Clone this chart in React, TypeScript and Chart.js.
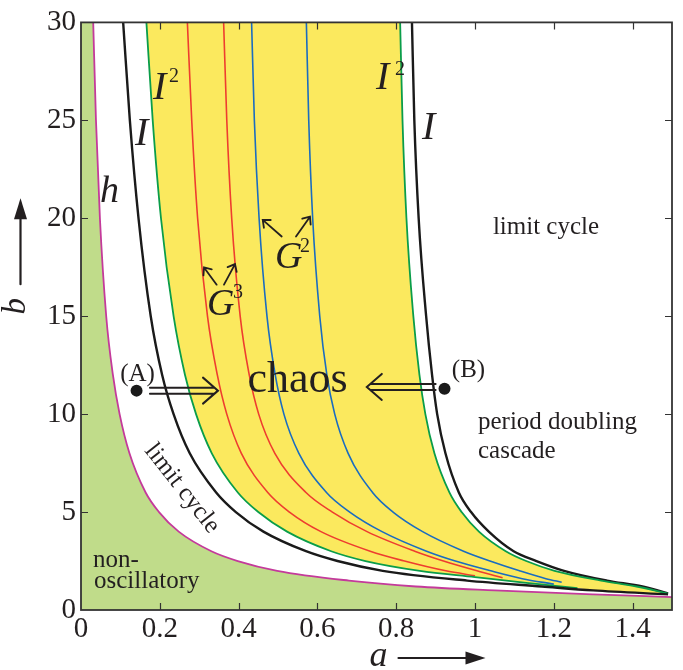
import React, { useEffect, useRef } from 'react';
import { Chart, registerables } from 'chart.js';

Chart.register(...registerables);

// ---------- axis ticks ----------
const xTickValues = [0, 0.2, 0.4, 0.6, 0.8, 1, 1.2, 1.4];
const xTickLabels = ['0', '0.2', '0.4', '0.6', '0.8', '1', '1.2', '1.4'];
const yTickValues = [0, 5, 10, 15, 20, 25, 30];
const yTickLabels = ['0', '5', '10', '15', '20', '25', '30'];

// ---------- curves (a, b) ----------
// h : Hopf curve (magenta)
const hA = [0.031, 0.038, 0.048, 0.064, 0.081, 0.098, 0.123, 0.164, 0.198, 0.248, 0.331, 0.398, 0.498, 0.68, 0.85, 1.05, 1.3, 1.5];
const hB = [30, 25, 20, 15, 12, 10, 8, 6, 5, 4, 3, 2.5, 2, 1.5, 1.2, 1.0, 0.8, 0.66];
// I : left black curve
const iLeftA = [0.107, 0.124, 0.146, 0.177, 0.206, 0.235, 0.276, 0.343, 0.393, 0.463, 0.571, 0.651, 0.766, 0.98, 1.17, 1.3, 1.49];
const iLeftB = [30, 25, 20, 15, 12, 10, 8, 6, 5, 4, 3, 2.5, 2, 1.5, 1.2, 1.0, 0.8];
// I^2 : left green curve
const i2LeftA = [0.166, 0.182, 0.203, 0.235, 0.264, 0.292, 0.332, 0.398, 0.45, 0.523, 0.635, 0.722, 0.86, 1.0, 1.13, 1.26];
const i2LeftB = [30, 25, 20, 15, 12, 10, 8, 6, 5, 4, 3, 2.5, 2, 1.68, 1.38, 1.12];
// G^3 : red curves
const g3aA = [0.27, 0.281, 0.296, 0.321, 0.346, 0.37, 0.407, 0.474, 0.529, 0.609, 0.734, 0.821, 0.926, 1.0];
const g3aB = [30, 25, 20, 15, 12, 10, 8, 6, 5, 4, 3, 2.5, 2, 1.75];
const g3bA = [0.362, 0.37, 0.3825, 0.404, 0.427, 0.451, 0.492, 0.571, 0.638, 0.726, 0.847, 0.92, 1.005, 1.07];
const g3bB = [30, 25, 20, 15, 12, 10, 8, 6, 5, 4, 3, 2.5, 2, 1.65];
// G^2 : blue curves
const g2aA = [0.433, 0.44, 0.452, 0.472, 0.493, 0.515, 0.553, 0.623, 0.682, 0.764, 0.877, 0.95, 1.04, 1.12, 1.2];
const g2aB = [30, 25, 20, 15, 12, 10, 8, 6, 5, 4, 3, 2.5, 2, 1.6, 1.32];
const g2bA = [0.572, 0.578, 0.588, 0.606, 0.624, 0.644, 0.678, 0.74, 0.792, 0.867, 0.971, 1.038, 1.113, 1.18, 1.22];
const g2bB = [30, 25, 20, 15, 12, 10, 8, 6, 5, 4, 3, 2.5, 2, 1.6, 1.42];
// I^2 : right green curve
const i2RightA = [0.81, 0.816, 0.826, 0.8435, 0.859, 0.874, 0.897, 0.935, 0.966, 1.01, 1.078, 1.13, 1.202, 1.32, 1.41, 1.49];
const i2RightB = [30, 25, 20, 15, 12, 10, 8, 6, 5, 4, 3, 2.5, 2, 1.5, 1.2, 0.84];
// I : right black curve
const iRightA = [0.84, 0.846, 0.857, 0.876, 0.891, 0.904, 0.925, 0.959, 0.99, 1.035, 1.098, 1.156, 1.226, 1.335, 1.425, 1.49];
const iRightB = [30, 25, 20, 15, 12, 10, 8, 6, 5, 4, 3, 2.5, 2, 1.5, 1.2, 0.85];
// marked points (A), (B)
const markA = [0.141, 0.9226];
const markB = [11.2, 11.3];

// ---------- annotations (data coordinates) ----------
const SERIF = "'Liberation Serif', 'Times New Roman', serif";
const textNotes = [
  { t: 'h', a: 0.0482, b: 20.85, f: `italic 38px ${SERIF}`, al: 'left' },
  { t: 'I', a: 0.137, b: 23.75, f: `italic 40px ${SERIF}`, al: 'left' },
  { t: 'I', a: 0.1827, b: 26.08, f: `italic 40px ${SERIF}`, al: 'left' },
  { t: '2', a: 0.2235, b: 26.95, f: `20px ${SERIF}`, al: 'left' },
  { t: 'I', a: 0.7487, b: 26.59, f: `italic 40px ${SERIF}`, al: 'left' },
  { t: '2', a: 0.797, b: 27.3, f: `20px ${SERIF}`, al: 'left' },
  { t: 'I', a: 0.8655, b: 24.05, f: `italic 40px ${SERIF}`, al: 'left' },
  { t: 'G', a: 0.3198, b: 15.05, f: `italic 38px ${SERIF}`, al: 'left' },
  { t: '3', a: 0.3858, b: 15.92, f: `20px ${SERIF}`, al: 'left' },
  { t: 'G', a: 0.4924, b: 17.44, f: `italic 38px ${SERIF}`, al: 'left' },
  { t: '2', a: 0.5558, b: 18.3, f: `20px ${SERIF}`, al: 'left' },
  { t: '(A)', a: 0.1434, b: 11.69, f: `25px ${SERIF}`, al: 'center' },
  { t: '(B)', a: 0.9835, b: 11.9, f: `25px ${SERIF}`, al: 'center' },
  { t: 'chaos', a: 0.5495, b: 11.14, f: `44px ${SERIF}`, al: 'center' },
  { t: 'limit cycle', a: 1.1802, b: 19.22, f: `25px ${SERIF}`, al: 'center' },
  { t: 'period doubling', a: 1.0076, b: 9.25, f: `25px ${SERIF}`, al: 'left' },
  { t: 'cascade', a: 1.0076, b: 7.78, f: `25px ${SERIF}`, al: 'left' },
  { t: 'non-', a: 0.0305, b: 2.19, f: `25px ${SERIF}`, al: 'left' },
  { t: 'oscillatory', a: 0.033, b: 1.12, f: `25px ${SERIF}`, al: 'left' },
];
const rotatedNote = { t: 'limit cycle', a: 0.2563, b: 6.2, f: `25px ${SERIF}`, deg: 52 };
const smallArrows = [
  [0.3443, 16.61, 0.3122, 17.49],
  [0.3629, 16.61, 0.3909, 17.66],
  [0.5094, 19.07, 0.4612, 19.92],
  [0.5457, 19.07, 0.5812, 20.08],
];
const doubleArrows = [
  [0.175, 0.3477, 11.2],
  [0.9, 0.7254, 11.39],
];

const COLORS = {
  greenFill: '#c0dc8a',
  yellowFill: '#fbe95e',
  magenta: '#c43a9b',
  green: '#0a9d4a',
  red: '#ee3d2f',
  blue: '#1a6cc0',
  black: '#1a1a1a',
  text: '#231f20',
};

const toXY = (A: number[], B: number[]) => A.map((a, i) => ({ x: a, y: B[i] }));

const IDX = { h: 1, iLeft: 2, i2Left: 3, i2Right: 8 };

const regionsPlugin = {
  id: 'regions',
  beforeDatasetsDraw(chart: any) {
    const { ctx, chartArea: ca } = chart;
    const pts = (i: number) => {
      const meta = chart.getDatasetMeta(i);
      meta.dataset.updateControlPoints(ca, 'x');
      return meta.data as any[];
    };
    const fwd = (p: any[]) => {
      ctx.lineTo(p[0].x, p[0].y);
      for (let k = 1; k < p.length; k++) {
        const s = p[k - 1], e = p[k];
        ctx.bezierCurveTo(s.cp2x ?? s.x, s.cp2y ?? s.y, e.cp1x ?? e.x, e.cp1y ?? e.y, e.x, e.y);
      }
    };
    const rev = (p: any[]) => {
      const n = p.length;
      ctx.lineTo(p[n - 1].x, p[n - 1].y);
      for (let k = n - 1; k > 0; k--) {
        const s = p[k], e = p[k - 1];
        ctx.bezierCurveTo(s.cp1x ?? s.x, s.cp1y ?? s.y, e.cp2x ?? e.x, e.cp2y ?? e.y, e.x, e.y);
      }
    };
    ctx.save();
    ctx.beginPath();
    ctx.rect(ca.left, ca.top, ca.right - ca.left, ca.bottom - ca.top);
    ctx.clip();

    // non-oscillatory region (below h)
    const hp = pts(IDX.h);
    ctx.beginPath();
    ctx.moveTo(ca.left, ca.bottom);
    ctx.lineTo(ca.left, ca.top);
    fwd(hp);
    ctx.lineTo(ca.right, hp[hp.length - 1].y);
    ctx.lineTo(ca.right, ca.bottom);
    ctx.closePath();
    ctx.fillStyle = COLORS.greenFill;
    ctx.fill();

    // chaos region (between I^2 curves)
    const gl = pts(IDX.i2Left);
    const bl = pts(IDX.iLeft);
    const gr = pts(IDX.i2Right);
    ctx.beginPath();
    ctx.moveTo(gl[0].x, ca.top);
    fwd(gl);
    const lastX = gl[gl.length - 1].x;
    const tail = bl.filter((p: any) => p.x > lastX + 1);
    if (tail.length) fwd(tail);
    rev(gr);
    ctx.lineTo(gr[0].x, ca.top);
    ctx.closePath();
    ctx.fillStyle = COLORS.yellowFill;
    ctx.fill();
    ctx.restore();
  },
};

function arrowSmall(ctx: any, x1: number, y1: number, x2: number, y2: number) {
  const ang = Math.atan2(y2 - y1, x2 - x1);
  const hl = 8, ha = 0.7;
  ctx.beginPath();
  ctx.moveTo(x1, y1);
  ctx.lineTo(x2, y2);
  ctx.moveTo(x2 - hl * Math.cos(ang - ha), y2 - hl * Math.sin(ang - ha));
  ctx.lineTo(x2, y2);
  ctx.lineTo(x2 - hl * Math.cos(ang + ha), y2 - hl * Math.sin(ang + ha));
  ctx.stroke();
}

function arrowDouble(ctx: any, x1: number, x2: number, y: number) {
  const dir = Math.sign(x2 - x1);
  const gap = 3, hl = 15, hh = 13;
  ctx.beginPath();
  ctx.moveTo(x1, y - gap);
  ctx.lineTo(x2 - dir * 4, y - gap);
  ctx.moveTo(x1, y + gap);
  ctx.lineTo(x2 - dir * 4, y + gap);
  ctx.moveTo(x2 - dir * hl, y - hh);
  ctx.lineTo(x2, y);
  ctx.lineTo(x2 - dir * hl, y + hh);
  ctx.stroke();
}

const decorPlugin = {
  id: 'decor',
  afterDraw(chart: any) {
    const { ctx, chartArea: ca, scales } = chart;
    const xs = scales.x, ys = scales.y;
    const px = (a: number) => xs.getPixelForValue(a);
    const py = (b: number) => ys.getPixelForValue(b);
    ctx.save();

    // inward tick marks on all four sides
    ctx.strokeStyle = '#333';
    ctx.lineWidth = 1.2;
    ctx.beginPath();
    xTickValues.forEach((v) => {
      if (v <= 0) return;
      const x = Math.round(px(v)) + 0.5;
      ctx.moveTo(x, ca.bottom);
      ctx.lineTo(x, ca.bottom - 7);
      ctx.moveTo(x, ca.top);
      ctx.lineTo(x, ca.top + 7);
    });
    yTickValues.forEach((v) => {
      if (v <= 0 || v >= 30) return;
      const y = Math.round(py(v)) + 0.5;
      ctx.moveTo(ca.left, y);
      ctx.lineTo(ca.left + 7, y);
      ctx.moveTo(ca.right, y);
      ctx.lineTo(ca.right - 7, y);
    });
    ctx.stroke();

    // frame
    ctx.lineWidth = 1.8;
    ctx.strokeStyle = '#333';
    ctx.strokeRect(ca.left, ca.top, ca.right - ca.left, ca.bottom - ca.top);

    // text labels
    ctx.fillStyle = COLORS.text;
    ctx.textBaseline = 'alphabetic';
    textNotes.forEach((n) => {
      ctx.font = n.f;
      ctx.textAlign = n.al;
      ctx.fillText(n.t, px(n.a), py(n.b));
    });
    ctx.save();
    ctx.translate(px(rotatedNote.a), py(rotatedNote.b));
    ctx.rotate((rotatedNote.deg * Math.PI) / 180);
    ctx.font = rotatedNote.f;
    ctx.textAlign = 'center';
    ctx.textBaseline = 'middle';
    ctx.fillText(rotatedNote.t, 0, 0);
    ctx.restore();

    // arrows
    ctx.strokeStyle = COLORS.text;
    ctx.lineWidth = 1.8;
    ctx.lineCap = 'round';
    smallArrows.forEach(([a1, b1, a2, b2]) => arrowSmall(ctx, px(a1), py(b1), px(a2), py(b2)));
    ctx.lineWidth = 2;
    doubleArrows.forEach(([a1, a2, b]) => arrowDouble(ctx, px(a1), px(a2), py(b)));

    // axis titles with arrows
    const cx = (ca.left + ca.right) / 2;
    ctx.font = `italic 36px ${SERIF}`;
    ctx.textAlign = 'center';
    ctx.textBaseline = 'alphabetic';
    ctx.fillText('a', cx + 2, ca.bottom + 56);
    ctx.lineWidth = 2.2;
    ctx.beginPath();
    ctx.moveTo(cx + 22, ca.bottom + 48);
    ctx.lineTo(cx + 92, ca.bottom + 48);
    ctx.stroke();
    ctx.beginPath();
    ctx.moveTo(cx + 109, ca.bottom + 48);
    ctx.lineTo(cx + 89, ca.bottom + 41.5);
    ctx.lineTo(cx + 89, ca.bottom + 54.5);
    ctx.closePath();
    ctx.fill();

    const cy = (ca.top + ca.bottom) / 2;
    ctx.save();
    ctx.translate(ca.left - 56, cy - 10);
    ctx.rotate(-Math.PI / 2);
    ctx.font = `italic 33px ${SERIF}`;
    ctx.textAlign = 'center';
    ctx.fillText('b', 0, 0);
    ctx.restore();
    const ax = ca.left - 60.5;
    ctx.beginPath();
    ctx.moveTo(ax, cy - 32);
    ctx.lineTo(ax, cy - 100);
    ctx.stroke();
    ctx.beginPath();
    ctx.moveTo(ax, cy - 118);
    ctx.lineTo(ax - 6.5, cy - 97);
    ctx.lineTo(ax + 6.5, cy - 97);
    ctx.closePath();
    ctx.fill();

    ctx.restore();
  },
};

const curve = (data: any, color: string, width: number) => ({
  data,
  borderColor: color,
  backgroundColor: color,
  borderWidth: width,
  pointRadius: 0,
  showLine: true,
  fill: false,
  cubicInterpolationMode: 'monotone' as const,
});

const labelFor = (values: number[], labels: string[]) => (v: any) => {
  const i = values.findIndex((t) => Math.abs(t - v) < 1e-6);
  return i >= 0 ? labels[i] : '';
};

export default function App() {
  const ref = useRef<HTMLCanvasElement>(null);
  useEffect(() => {
    if (!ref.current) return;
    const chart = new Chart(ref.current, {
      type: 'scatter',
      data: {
        datasets: [
          {
            data: toXY(markA, markB),
            pointRadius: 6,
            pointBackgroundColor: COLORS.black,
            pointBorderWidth: 0,
            showLine: false,
          } as any,
          curve(toXY(hA, hB), COLORS.magenta, 1.8),
          curve(toXY(iLeftA, iLeftB), COLORS.black, 2.4),
          curve(toXY(i2LeftA, i2LeftB), COLORS.green, 1.8),
          curve(toXY(g3aA, g3aB), COLORS.red, 1.6),
          curve(toXY(g3bA, g3bB), COLORS.red, 1.6),
          curve(toXY(g2aA, g2aB), COLORS.blue, 1.6),
          curve(toXY(g2bA, g2bB), COLORS.blue, 1.6),
          curve(toXY(i2RightA, i2RightB), COLORS.green, 1.8),
          curve(toXY(iRightA, iRightB), COLORS.black, 2.4),
        ],
      },
      options: {
        responsive: false,
        animation: false,
        devicePixelRatio: 1,
        layout: { padding: { left: 0, right: 11, top: 20, bottom: 0 } },
        plugins: { legend: { display: false }, tooltip: { enabled: false } },
        scales: {
          x: {
            type: 'linear',
            min: 0,
            max: 1.5,
            grid: { display: false, drawTicks: false },
            border: { display: false },
            afterBuildTicks: (s: any) => { s.ticks = xTickValues.map((v) => ({ value: v })); },
            ticks: {
              autoSkip: false,
              maxRotation: 0,
              padding: 2,
              color: COLORS.text,
              font: { family: SERIF, size: 29 },
              callback: labelFor(xTickValues, xTickLabels),
            },
            afterFit: (s: any) => { s.height = 60; },
          },
          y: {
            type: 'linear',
            min: 0,
            max: 30,
            grid: { display: false, drawTicks: false },
            border: { display: false },
            afterBuildTicks: (s: any) => { s.ticks = yTickValues.map((v) => ({ value: v })); },
            ticks: {
              autoSkip: false,
              padding: 5,
              color: COLORS.text,
              font: { family: SERIF, size: 29 },
              callback: labelFor(yTickValues, yTickLabels),
            },
            afterFit: (s: any) => { s.width = 81; },
          },
        },
      } as any,
      plugins: [regionsPlugin, decorPlugin],
    });
    return () => chart.destroy();
  }, []);
  return (
    <div style={{ position: 'absolute', left: 0, top: 0, width: 683, height: 670, background: '#fff' }}>
      <canvas ref={ref} width={683} height={670} style={{ display: 'block', width: 683, height: 670 }} />
    </div>
  );
}
